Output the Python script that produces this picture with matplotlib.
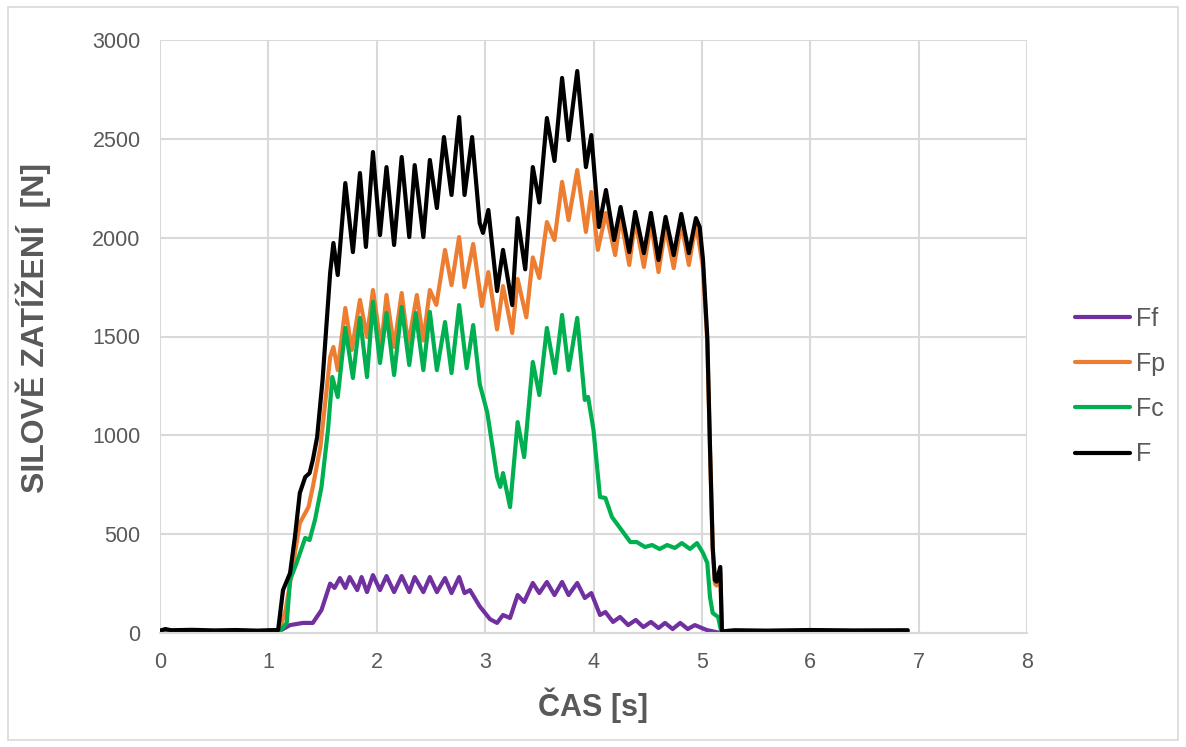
import matplotlib.pyplot as plt
from matplotlib.patches import Rectangle

# time [s] / force [N] (peaks and troughs)
t_Ff = [0.0, 0.5, 1.0, 1.08, 1.20, 1.32, 1.41, 1.49, 1.57, 1.61, 1.66, 1.71, 1.75, 1.82, 1.86,
        1.91, 1.965, 2.03, 2.09, 2.16, 2.23, 2.30, 2.35, 2.43, 2.49, 2.555, 2.63, 2.69, 2.76,
        2.81, 2.86, 2.95, 3.045, 3.11, 3.165, 3.23, 3.30, 3.36, 3.44, 3.50, 3.57, 3.64, 3.71,
        3.77, 3.85, 3.92, 3.98, 4.06, 4.11, 4.18, 4.245, 4.32, 4.39, 4.46, 4.53, 4.60, 4.66,
        4.73, 4.80, 4.87, 4.935, 5.045, 5.17, 5.5, 6.0, 6.5, 6.9]
Ff = [2, 2, 2, 3, 40, 51, 51, 116, 250, 228, 278, 228, 283, 217, 283,
      207, 293, 217, 288, 207, 288, 207, 283, 207, 283, 207, 278, 202, 283,
      202, 217, 135, 70, 51, 91, 76, 192, 157, 253, 202, 258, 192, 258,
      192, 253, 177, 202, 91, 106, 56, 81, 40, 66, 30, 56, 25, 51,
      20, 51, 20, 40, 15, 0, 2, 2, 2, 2]

t_Fp = [0.0, 0.5, 1.0, 1.10, 1.16, 1.22, 1.29, 1.37, 1.41, 1.48, 1.57, 1.60, 1.64, 1.71, 1.77,
        1.845, 1.91, 1.965, 2.04, 2.09, 2.16, 2.23, 2.29, 2.37, 2.43, 2.49, 2.55, 2.63, 2.69,
        2.76, 2.81, 2.89, 2.97, 3.03, 3.11, 3.165, 3.25, 3.30, 3.38, 3.44, 3.50, 3.57, 3.64,
        3.71, 3.77, 3.85, 3.93, 3.98, 4.04, 4.115, 4.20, 4.25, 4.33, 4.385, 4.465, 4.53, 4.60,
        4.665, 4.74, 4.81, 4.88, 4.945, 5.01, 5.05, 5.075, 5.10, 5.12, 5.135, 5.17, 5.185,
        5.5, 6.0, 6.5, 6.9]
Fp = [5, 5, 5, 6, 120, 319, 556, 637, 739, 941, 1396, 1447, 1330, 1644, 1432,
      1685, 1497, 1735, 1447, 1710, 1447, 1720, 1457, 1710, 1480, 1735, 1660, 1938, 1760,
      2003, 1750, 1968, 1654, 1826, 1536, 1755, 1518, 1791, 1597, 1900, 1796, 2079, 1988,
      2282, 2089, 2342, 2029, 2231, 1938, 2125, 1912, 2105, 1862, 2089, 1852, 2074, 1826,
      2054, 1846, 2074, 1862, 2074, 1850, 1470, 920, 420, 250, 240, 310, 3,
      4, 4, 4, 4]

t_Fc = [0.0, 0.5, 1.0, 1.10, 1.17, 1.20, 1.26, 1.34, 1.38, 1.43, 1.49, 1.55, 1.59, 1.64, 1.71,
        1.78, 1.845, 1.91, 1.965, 2.03, 2.09, 2.16, 2.23, 2.30, 2.36, 2.43, 2.49, 2.555, 2.63,
        2.69, 2.76, 2.83, 2.89, 2.95, 3.02, 3.11, 3.14, 3.165, 3.23, 3.30, 3.36, 3.44, 3.50,
        3.57, 3.645, 3.71, 3.77, 3.85, 3.92, 3.95, 4.00, 4.06, 4.11, 4.17, 4.245, 4.34, 4.40,
        4.475, 4.54, 4.61, 4.68, 4.75, 4.815, 4.89, 4.955, 5.01, 5.05, 5.075, 5.10, 5.15, 5.18,
        5.5, 6.0, 6.5, 6.9]
Fc = [5, 5, 5, 6, 51, 268, 354, 481, 470, 572, 739, 1027, 1295, 1194, 1543,
      1290, 1594, 1295, 1675, 1366, 1619, 1305, 1649, 1356, 1619, 1330, 1624, 1330, 1573,
      1315, 1659, 1340, 1558, 1260, 1115, 790, 739, 809, 637, 1067, 890, 1371, 1204,
      1543, 1315, 1609, 1330, 1594, 1179, 1194, 1027, 688, 683, 587, 531, 460, 460,
      435, 445, 425, 445, 430, 455, 425, 455, 405, 354, 182, 101, 81, 3,
      4, 4, 4, 4]

t_F = [0.0, 0.05, 0.1, 0.3, 0.5, 0.7, 0.9, 1.0, 1.09, 1.135, 1.20, 1.245, 1.29, 1.34, 1.38,
       1.41, 1.45, 1.50, 1.57, 1.60, 1.64, 1.71, 1.78, 1.845, 1.90, 1.965, 2.03, 2.09, 2.16,
       2.23, 2.30, 2.35, 2.43, 2.49, 2.555, 2.62, 2.69, 2.76, 2.81, 2.88, 2.95, 2.98, 3.03,
       3.11, 3.165, 3.25, 3.30, 3.37, 3.44, 3.50, 3.57, 3.64, 3.71, 3.77, 3.85, 3.93, 3.98,
       4.05, 4.115, 4.19, 4.25, 4.33, 4.385, 4.465, 4.53, 4.60, 4.665, 4.74, 4.81, 4.88, 4.945,
       4.98, 5.01, 5.05, 5.075, 5.10, 5.12, 5.135, 5.17, 5.185, 5.3, 5.6, 6.0, 6.4, 6.9]
F = [12, 20, 14, 16, 13, 15, 12, 14, 15, 217, 303, 486, 708, 789, 809,
     875, 991, 1280, 1821, 1973, 1811, 2276, 1927, 2327, 1953, 2433, 2013, 2357, 1963,
     2408, 2003, 2367, 2003, 2393, 2150, 2509, 2216, 2610, 2216, 2509, 2074, 2024, 2140,
     1730, 1938, 1659, 2099, 1840, 2357, 2178, 2605, 2388, 2808, 2494, 2843, 2357, 2519,
     2054, 2241, 1988, 2155, 1927, 2130, 1922, 2125, 1887, 2105, 1912, 2120, 1922, 2099,
     2054, 1890, 1497, 941, 435, 268, 260, 334, 8, 14, 12, 15, 13, 14]

series = [('Ff', t_Ff, Ff, '#7030a0'),
          ('Fp', t_Fp, Fp, '#ed7d31'),
          ('Fc', t_Fc, Fc, '#00b050'),
          ('F', t_F, F, '#000000')]

plt.rcParams['font.family'] = ['Liberation Sans', 'DejaVu Sans']
grey = '#595959'
grid_c = '#d9d9d9'

fig = plt.figure(figsize=(11.86, 7.47), dpi=100)
ax = fig.add_axes([160 / 1186, 1 - 633 / 747, 867 / 1186, 593 / 747])

for name, t, y, c in series:
    ax.plot(t, y, color=c, lw=3.0, label=name, solid_joinstyle='round', solid_capstyle='round')

ax.set_xlim(0, 8)
ax.set_ylim(0, 3000)
ax.set_xticks(range(0, 9))
ax.set_yticks(range(0, 3001, 500))
ax.grid(True, color=grid_c, lw=1.5)
ax.set_axisbelow(True)
for s in ['top', 'right', 'left']:
    ax.spines[s].set_visible(False)
ax.spines['bottom'].set_color(grid_c)
ax.spines['bottom'].set_linewidth(1.5)
ax.tick_params(length=0, labelsize=15.5, labelcolor=grey)
ax.tick_params(axis='x', pad=14)
ax.tick_params(axis='y', pad=14)

ax.set_xlabel('ČAS [s]', fontsize=22, fontweight='bold', color=grey, labelpad=10)
ax.set_ylabel('SILOVĚ ZATÍŽENÍ  [N]', fontsize=23, fontweight='bold', color=grey)
ax.yaxis.set_label_coords(-0.126, 0.514)

leg = ax.legend(loc='upper left', bbox_to_anchor=(1062 / 1186, 1 - 294 / 747),
                bbox_transform=fig.transFigure, frameon=False, fontsize=18,
                handlelength=2.2, labelspacing=0.85, handletextpad=0.25, borderpad=0)
for txt in leg.get_texts():
    txt.set_color(grey)

fig.patches.append(Rectangle((8 / 1186, 7 / 747), 1170 / 1186, 733 / 747, transform=fig.transFigure,
                             fill=False, edgecolor=grid_c, lw=1.2))

fig.savefig('out.png', dpi=100)
